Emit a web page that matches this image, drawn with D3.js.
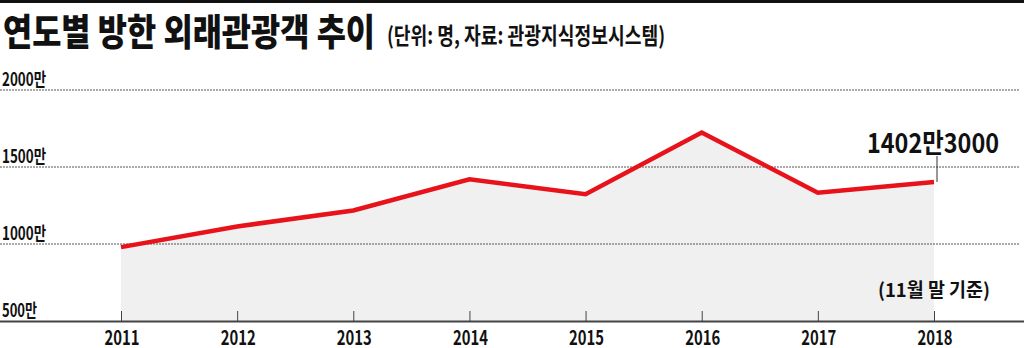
<!DOCTYPE html>
<html>
<head>
<meta charset="utf-8">
<script src="https://cdn.jsdelivr.net/npm/d3@7"></script>
<style>
  body { margin: 0; background: #fff; }
  svg { display: block; }
  text { font-family: "Noto Sans CJK KR", "Noto Sans", sans-serif; fill: #111; }
</style>
</head>
<body>
<div id="chart"></div>
<script>
const years = ["2011", "2012", "2013", "2014", "2015", "2016", "2017", "2018"];
const visitors = [979.5, 1114, 1217.5, 1420, 1323, 1724, 1333.5, 1402.3];
const yTicks = [500, 1000, 1500, 2000];

const W = 1024, H = 348;
const svg = d3.select("#chart").append("svg").attr("width", W).attr("height", H);

const x = d3.scalePoint().domain(years).range([121, 934]);
const y = d3.scaleLinear().domain([500, 2000]).range([321, 90]);

// squeeze text to a given width, like the condensed gothic face of the original
function squeeze(sel, w) {
    sel.attr("textLength", w).attr("lengthAdjust", "spacingAndGlyphs");
}

// top rule
svg.append("rect").attr("x", 0).attr("y", 0).attr("width", W).attr("height", 3).attr("fill", "#111");

// title
svg.append("text").attr("x", 3).attr("y", 46)
    .style("font-size", "37px").style("font-weight", 900)
    .text("연도별 방한 외래관광객 추이").call(squeeze, 372);
svg.append("text").attr("x", 387).attr("y", 44)
    .style("font-size", "23px").style("font-weight", 700)
    .text("(단위: 명, 자료: 관광지식정보시스템)").call(squeeze, 278);

// area fill
const area = d3.area()
    .x((d, i) => x(years[i]))
    .y0(y(500))
    .y1(d => y(d));
svg.append("path").datum(visitors).attr("d", area).attr("fill", "#f0f0f0");

// dashed gridlines
svg.append("g").selectAll("line").data(yTicks.filter(d => d > 500)).enter().append("line")
    .attr("x1", 0).attr("x2", 1020)
    .attr("y1", d => y(d)).attr("y2", d => y(d))
    .attr("stroke", "#555").attr("stroke-width", 1).attr("stroke-dasharray", "2,1");

// y labels
svg.append("g").selectAll("text").data(yTicks).enter().append("text")
    .attr("x", 2).attr("y", d => y(d) - 4)
    .style("font-size", "18px").style("font-weight", 700)
    .text(d => d + "만").call(squeeze, d => d >= 1000 ? 44 : 35);

// x axis
const xAxis = d3.axisBottom(x).tickSize(0).tickPadding(0);
const gx = svg.append("g").attr("transform", "translate(0," + y(500) + ")").call(xAxis);
gx.select(".domain").remove();
gx.selectAll("text").remove();
gx.selectAll(".tick").append("line").attr("y1", -10).attr("y2", 0).attr("stroke", "#444").attr("stroke-width", 1);
svg.append("line").attr("x1", 0).attr("x2", W).attr("y1", y(500) + 0.5).attr("y2", y(500) + 0.5)
    .attr("stroke", "#444").attr("stroke-width", 2);
svg.append("g").selectAll("text").data(years).enter().append("text")
    .attr("x", d => x(d) + 1).attr("y", 345).attr("text-anchor", "middle")
    .style("font-size", "20px").style("font-weight", 700)
    .text(d => d).call(squeeze, 35);

// line
const line = d3.line().x((d, i) => x(years[i])).y(d => y(d));
svg.append("path").datum(visitors).attr("d", line)
    .attr("fill", "none").attr("stroke", "#e8121b").attr("stroke-width", 4.5).attr("stroke-linejoin", "miter");

// annotation for last value
const last = visitors[visitors.length - 1];
svg.append("line").attr("x1", x("2018") + 3).attr("x2", x("2018") + 3)
    .attr("y1", 156).attr("y2", y(last)).attr("stroke", "#333").attr("stroke-width", 1);
svg.append("text").attr("x", 867).attr("y", 153)
    .style("font-size", "27px").style("font-weight", 700)
    .text("1402만3000").call(squeeze, 132);

// footnote
svg.append("text").attr("x", 878).attr("y", 297)
    .style("font-size", "19px").style("font-weight", 700)
    .text("(11월 말 기준)").call(squeeze, 112);
</script>
</body>
</html>
